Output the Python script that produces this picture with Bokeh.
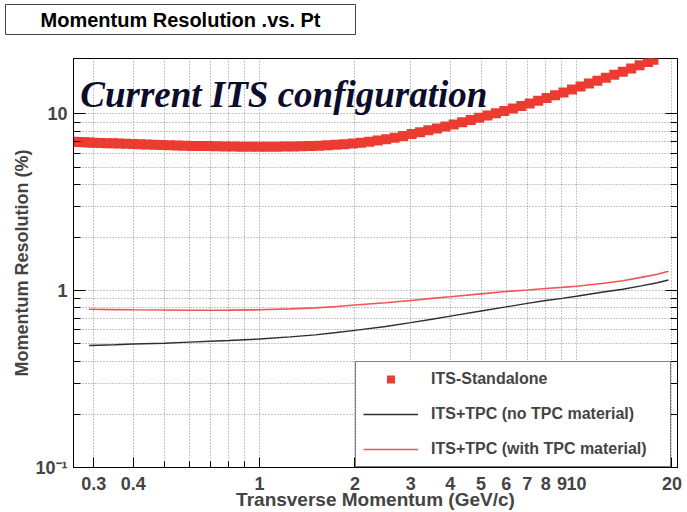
from bokeh.plotting import figure
from bokeh.models import Range1d, FixedTicker, LogAxis, Label, Legend, LegendItem, Title
from bokeh.embed import file_html
from bokeh.resources import INLINE

# ---------------- data ----------------
pt_standalone = [0.26, 0.27, 0.28, 0.29, 0.30, 0.315, 0.33, 0.345, 0.36, 0.38,
                 0.40, 0.42, 0.44, 0.465, 0.49, 0.52, 0.55, 0.58, 0.61, 0.65,
                 0.69, 0.73, 0.78, 0.83, 0.88, 0.94, 1.0, 1.06, 1.13, 1.2,
                 1.28, 1.36, 1.45, 1.54, 1.64, 1.74, 1.85, 1.97, 2.09, 2.22,
                 2.36, 2.51, 2.67, 2.84, 3.02, 3.21, 3.41, 3.63, 3.86, 4.1,
                 4.36, 4.64, 4.93, 5.24, 5.57, 5.92, 6.3, 6.7, 7.12, 7.57,
                 8.05, 8.56, 9.1, 9.68, 10.3, 10.95, 11.64, 12.38, 13.16, 14.0,
                 14.88, 15.82, 16.82, 17.5]
res_standalone = [6.96, 6.94, 6.92, 6.90, 6.88, 6.86, 6.84, 6.82, 6.80, 6.78,
                  6.76, 6.74, 6.72, 6.70, 6.68, 6.66, 6.64, 6.62, 6.60, 6.59,
                  6.58, 6.57, 6.55, 6.54, 6.53, 6.52, 6.52, 6.52, 6.53, 6.54,
                  6.55, 6.57, 6.59, 6.62, 6.66, 6.70, 6.75, 6.80, 6.87, 6.96,
                  7.07, 7.19, 7.34, 7.51, 7.70, 7.89, 8.08, 8.29, 8.50, 8.73,
                  8.98, 9.24, 9.51, 9.80, 10.10, 10.41, 10.74, 11.10, 11.48, 11.89,
                  12.32, 12.77, 13.24, 13.75, 14.30, 14.86, 15.44, 16.04, 16.66, 17.35,
                  18.07, 18.84, 19.66, 20.25]

pt_tpc = [0.29, 0.35, 0.4, 0.5, 0.6, 0.7, 0.8, 1.0, 1.25, 1.5, 1.75, 2.0, 2.5,
          3.0, 3.5, 4.0, 5.0, 6.0, 7.0, 8.0, 9.0, 10.0, 12.0, 14.0, 16.0, 18.0, 19.5]
res_no_material = [0.490, 0.495, 0.500, 0.505, 0.512, 0.518, 0.523, 0.533, 0.548,
                   0.563, 0.580, 0.597, 0.628, 0.660, 0.690, 0.718, 0.768, 0.810,
                   0.848, 0.880, 0.905, 0.930, 0.980, 1.020, 1.065, 1.110, 1.150]
res_with_material = [0.785, 0.782, 0.780, 0.778, 0.776, 0.776, 0.777, 0.780, 0.790,
                     0.800, 0.815, 0.830, 0.855, 0.880, 0.905, 0.925, 0.960, 0.990,
                     1.010, 1.030, 1.045, 1.060, 1.100, 1.140, 1.190, 1.240, 1.290]

x_major = [0.3, 0.4, 1, 2, 3, 4, 5, 6, 7, 8, 9, 10, 20]
x_minor = [0.5, 0.6, 0.7, 0.8, 0.9]
x_labels = ["0.3", "0.4", "1", "2", "3", "4", "5", "6", "7", "8", "9", "10", "20"]
y_major = [0.1, 1, 10]
y_minor = [0.2, 0.3, 0.4, 0.5, 0.6, 0.7, 0.8, 0.9, 2, 3, 4, 5, 6, 7, 8, 9]
y_labels = ["10\u207b\u00b9", "1", "10"]

FONT = "Liberation Sans"

p = figure(width=687, height=512, x_axis_type="log", y_axis_type="log",
           x_range=Range1d(0.259, 20.83), y_range=Range1d(0.1, 20.6),
           output_backend="svg", toolbar_location=None,
           min_border_left=73, min_border_right=10, min_border_top=58,
           min_border_bottom=44, background_fill_color="white",
           border_fill_color="white", outline_line_color="black",
           outline_line_width=1,
           x_axis_label="Transverse Momentum (GeV/c)",
           y_axis_label="Momentum Resolution (%)")

# blank spacer between frame and title box (closest to the frame)
p.add_layout(Title(text=" ", text_font_size="2px", standoff=18), "above")
p.add_layout(Title(text="Momentum Resolution .vs. Pt", align="left",
                   vertical_align="top", offset=-68, standoff=0,
                   text_font=FONT, text_font_style="bold", text_font_size="20px",
                   text_color="black", border_line_color="#444444",
                   border_line_width=1, background_fill_color="white",
                   padding=dict(left=35, right=35, top=4, bottom=4)), "above")

xt = FixedTicker(ticks=x_major, minor_ticks=x_minor)
yt = FixedTicker(ticks=y_major, minor_ticks=y_minor)

xa = p.xaxis[0]
xa.ticker = xt
xa.major_label_overrides = {float(v): s for v, s in zip(x_major, x_labels)}
xa.major_label_text_font = FONT
xa.major_label_text_font_style = "bold"
xa.major_label_text_font_size = "18px"
xa.major_label_standoff = 9
xa.major_tick_in = 10
xa.major_tick_out = 0
xa.minor_tick_in = 6
xa.minor_tick_out = 0
xa.axis_line_color = "black"
xa.axis_label_text_font = FONT
xa.axis_label_text_font_style = "bold"
xa.axis_label_text_font_size = "19px"
xa.axis_label_standoff = -4

ya = p.yaxis[0]
ya.ticker = yt
ya.major_label_overrides = {float(v): s for v, s in zip(y_major, y_labels)}
ya.major_label_text_font = FONT
ya.major_label_text_font_style = "bold"
ya.major_label_text_font_size = "18px"
ya.major_label_standoff = 6
ya.major_tick_in = 12
ya.major_tick_out = 0
ya.minor_tick_in = 7
ya.minor_tick_out = 0
ya.axis_line_color = "black"
ya.axis_label_text_font = FONT
ya.axis_label_text_font_style = "bold"
ya.axis_label_text_font_size = "18px"
ya.axis_label_standoff = 0

ra = LogAxis(ticker=yt, major_label_overrides={float(v): "" for v in y_major},
             major_label_standoff=0, major_tick_in=12, major_tick_out=0,
             minor_tick_in=7, minor_tick_out=0, axis_line_color="black")
p.add_layout(ra, "right")

for g, tk in ((p.xgrid[0], xt), (p.ygrid[0], yt)):
    g.ticker = tk
    g.grid_line_color = "#8c8c8c"
    g.grid_line_dash = "1 2"
    g.grid_line_width = 1
    g.minor_grid_line_color = "#8c8c8c"
    g.minor_grid_line_dash = "1 2"
    g.minor_grid_line_width = 1

r_sa = p.scatter(pt_standalone, res_standalone, marker="square", size=10,
                 fill_color="#ec3b30", line_color=None)
r_nm = p.line(pt_tpc, res_no_material, line_color="#2e2e2e", line_width=1.4)
r_wm = p.line(pt_tpc, res_with_material, line_color="#f05555", line_width=1.6)

legend = Legend(items=[LegendItem(label="ITS-Standalone", renderers=[r_sa]),
                       LegendItem(label="ITS+TPC (no TPC material)", renderers=[r_nm]),
                       LegendItem(label="ITS+TPC (with TPC material)", renderers=[r_wm])],
                location=(282, 0), padding=7, spacing=15, glyph_width=55,
                glyph_height=20, label_height=20, label_width=232,
                label_standoff=13, label_text_font=FONT,
                label_text_font_size="16px", label_text_font_style="bold",
                border_line_color="black", border_line_width=1,
                background_fill_color="white", background_fill_alpha=1.0,
                margin=0)
p.add_layout(legend)

p.add_layout(Label(x=0.272, y=12.95, text="Current ITS configuration",
                   text_font="Liberation Serif", text_font_style="bold italic",
                   text_font_size="37px", text_color="#0c0c2c",
                   text_baseline="alphabetic", text_align="left"))

open("out.html", "w").write(file_html(p, INLINE))
